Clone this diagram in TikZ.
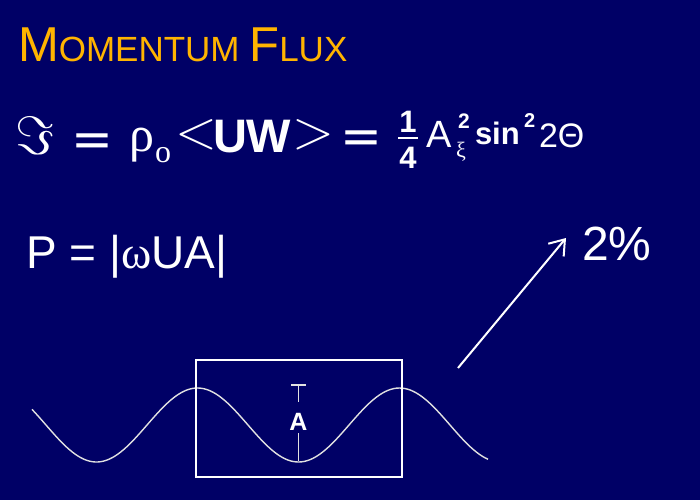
\RequirePackage{fix-cm}
\documentclass[tikz,border=0pt]{standalone}
\usepackage{fontspec}
\setmainfont{Liberation Sans}
\newfontfamily\greekserif{Liberation Serif}
\newfontfamily\dvsans{DejaVu Sans}
\usetikzlibrary{arrows.meta}
\definecolor{navybg}{RGB}{0,0,102}
\definecolor{titleorange}{RGB}{255,180,0}
\definecolor{wavegray}{RGB}{225,225,225}
\newcommand{\fsz}[1]{\fontsize{#1}{#1}\selectfont}
\begin{document}
\begin{tikzpicture}[x=1pt,y=-1pt,
  txt/.style={inner sep=0pt,outer sep=0pt,anchor=base west,text=white},
  thinline/.style={draw=wavegray,line width=1.4pt},
  boxstyle/.style={draw=white,line width=2pt,inner sep=0pt,minimum width=206pt,minimum height=117pt},
  arrowline/.style={draw=white,line width=2pt,-{Straight Barb[length=14pt,width=20pt,line width=2pt]}}]
\fill[navybg] (0,0) rectangle (700,500);
\useasboundingbox (0,0) rectangle (700,500);
% title
\node[txt,text=titleorange] (title) at (18,62) {\fsz{49}M\fsz{35}OMENTUM \fsz{49}F\fsz{35}LUX};
% formula
\node[txt] (Im) at (16,154) {\fsz{54}$\Im$};
\node[txt] (eqa) at (71,156) {\fsz{50}\dvsans =};
\node[txt] (rho) at (129,151) {\fsz{50}\greekserif ρ};
\node[txt] (osub) at (155,162) {\fsz{32}\greekserif o};
\node[txt] (lt) at (175,148) {\fsz{55}$<$};
\node[txt] (UW) at (213,152) {\fsz{47}\bfseries UW};
\node[txt] (gt) at (292,148) {\fsz{55}$>$};
\node[txt] (eqb) at (340,153) {\fsz{50}\dvsans =};
\node[txt,anchor=base] (one) at (408,132) {\fsz{31}\bfseries 1};
\node[txt,anchor=base] (four) at (408,168) {\fsz{31}\bfseries 4};
\draw[white,line width=2pt] ([xshift=-10pt,yshift=-6pt]one.south) -- ([xshift=10pt,yshift=-6pt]one.south);
\node[txt] (Acap) at (426,147) {\fsz{38}A};
\node[txt] (supa) at (458,128) {\fsz{21}\bfseries 2};
\node[txt] (xi) at (456,157) {\fsz{22}\greekserif ξ};
\node[txt] (sin) at (475,144) {\fsz{31}\bfseries sin};
\node[txt] (supb) at (524,127) {\fsz{20}\bfseries 2};
\node[txt] (theta) at (539,147) {\fsz{34}2Θ};
% P line
\node[txt] (P) at (26,268) {\fsz{46}P = |{\greekserif ω}UA|};
\node[txt] (pct) at (582,260) {\fsz{48}2\%};
% arrow
\coordinate (arrS) at (458,368);
\coordinate (arrE) at (566,238);
\draw[arrowline] (arrS) -- (arrE);
% wave
\draw[thinline] plot[domain=32:488,samples=160,smooth] (\x,{425-37*cos((\x-197.5)*1.78218)});
% box
\node[boxstyle] (box) at (299,418.5) {};
% amplitude marker
\node[txt,anchor=center] (Alab) at (298.5,421.5) {\fsz{25}\bfseries A};
\coordinate (Atop) at (298.5,385);
\coordinate (Abot) at (298.5,461);
\draw[thinline] (Atop) -- ([yshift=11pt]Alab.north);
\draw[thinline] ([yshift=-3pt]Alab.south) -- (Abot);
\draw[thinline] ([xshift=-7.5pt]Atop) -- ([xshift=7.5pt]Atop);
\end{tikzpicture}
\end{document}
